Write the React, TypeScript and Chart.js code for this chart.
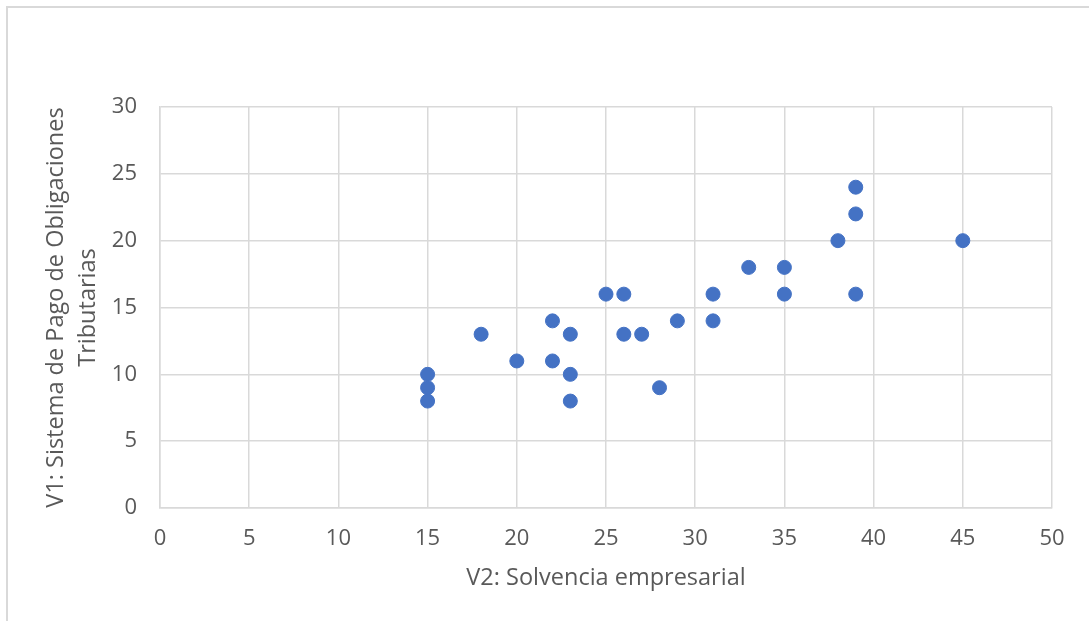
import React, { useEffect, useRef } from "react";
import { Chart, registerables } from "chart.js";

Chart.register(...registerables);

const solvencia: number[] = [15, 15, 15, 18, 20, 22, 22, 23, 23, 23, 25, 26, 26, 27, 28, 29, 31, 31, 33, 35, 35, 38, 39, 39, 39, 45];
const sistemaPago: number[] = [10, 9, 8, 13, 11, 14, 11, 13, 10, 8, 16, 16, 13, 13, 9, 14, 16, 14, 18, 18, 16, 20, 24, 22, 16, 20];

const xTitle = "V2: Solvencia empresarial";
const yTitle = ["V1: Sistema de Pago de Obligaciones", "Tributarias"];

const FONT = "'Open Sans', 'Noto Sans', sans-serif";
const TEXT = "#595959";
const GRID = "#d9d9d9";
const BLUE = "#4472C4";

export default function App() {
  const ref = useRef<HTMLCanvasElement | null>(null);

  useEffect(() => {
    document.body.style.margin = "0";
    document.body.style.overflow = "hidden";
    const canvas = ref.current;
    if (!canvas) return;
    const points = solvencia.map((x, i) => ({ x, y: sistemaPago[i] }));
    const chart = new Chart(canvas, {
      type: "scatter",
      data: {
        datasets: [
          {
            data: points,
            backgroundColor: BLUE,
            borderColor: BLUE,
            borderWidth: 1,
            pointRadius: 7,
            pointHoverRadius: 7,
          },
        ],
      },
      options: {
        responsive: false,
        animation: false,
        layout: { padding: { top: 107, right: 37, left: 0, bottom: 0 } },
        plugins: { legend: { display: false }, tooltip: { enabled: false } },
        scales: {
          x: {
            type: "linear",
            min: 0,
            max: 50,
            ticks: { stepSize: 5, padding: 18, color: TEXT, font: { family: FONT, size: 22 } },
            grid: { color: GRID, lineWidth: 1.5, drawTicks: false },
            border: { color: GRID, width: 1.5 },
            title: {
              display: true,
              text: xTitle,
              color: TEXT,
              font: { family: FONT, size: 23.5, lineHeight: 1.2 },
              padding: { top: 0, bottom: 29 },
            },
            afterFit: (scale: any) => {
              scale.height = 113;
            },
          },
          y: {
            type: "linear",
            min: 0,
            max: 30,
            ticks: { stepSize: 5, padding: 23, color: TEXT, font: { family: FONT, size: 22 } },
            grid: { color: GRID, lineWidth: 1.5, drawTicks: false },
            border: { color: GRID, width: 1.5 },
            title: {
              display: true,
              text: yTitle,
              color: TEXT,
              font: { family: FONT, size: 23.5, lineHeight: 1.36 },
              padding: { top: 40, bottom: 0 },
            },
            afterFit: (scale: any) => {
              scale.width = 160;
            },
          },
        },
      },
    });
    return () => chart.destroy();
  }, []);

  return (
    <div style={{ position: "fixed", left: 0, top: 0, width: 1089, height: 621, background: "#fff" }}>
      <div
        style={{
          position: "absolute",
          left: 6,
          top: 6,
          width: 1200,
          height: 700,
          borderTop: `2px solid ${GRID}`,
          borderLeft: `2px solid ${GRID}`,
        }}
      />
      <canvas ref={ref} width={1089} height={621} style={{ position: "absolute", left: 0, top: 0 }} />
    </div>
  );
}
